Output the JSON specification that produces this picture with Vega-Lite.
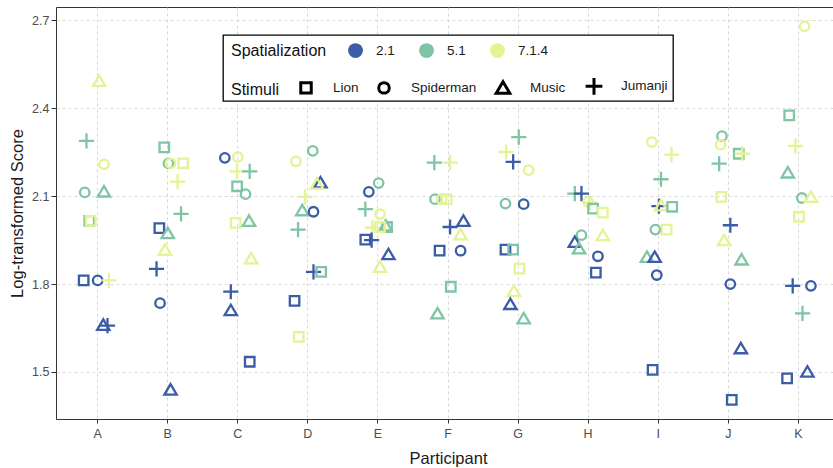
{
  "$schema": "https://vega.github.io/schema/vega-lite/v6.json",
  "width": 784,
  "height": 412,
  "autosize": {"type": "none"},
  "padding": {"left": 56, "top": 7, "right": 0, "bottom": 49},
  "background": "white",
  "config": {
    "view": {"stroke": "#333333", "strokeWidth": 1},
    "font": "Liberation Sans",
    "axis": {
      "domain": false,
      "grid": true,
      "gridDash": [3, 3],
      "gridColor": "#cfcfcf",
      "gridWidth": 0.8,
      "tickColor": "#333333",
      "tickWidth": 1,
      "labelColor": "#4d4d4d",
      "labelFont": "Liberation Sans",
      "labelFontSize": 12.5,
      "titleFont": "Liberation Sans",
      "titleFontSize": 16.5,
      "titleFontWeight": "normal",
      "titleColor": "#1a1a1a"
    },
    "legend": {"strokeWidth": 1.3}
  },
  "data": {
    "values": [
      {"P": "A", "S": "7.1.4", "St": "Music", "y": 2.494, "j": 0.02},
      {"P": "A", "S": "5.1", "St": "Jumanji", "y": 2.289, "j": -0.16},
      {"P": "A", "S": "7.1.4", "St": "Spiderman", "y": 2.209, "j": 0.09},
      {"P": "A", "S": "5.1", "St": "Spiderman", "y": 2.113, "j": -0.185},
      {"P": "A", "S": "5.1", "St": "Music", "y": 2.116, "j": 0.09},
      {"P": "A", "S": "5.1", "St": "Lion", "y": 2.016, "j": -0.12},
      {"P": "A", "S": "7.1.4", "St": "Lion", "y": 2.016, "j": -0.1},
      {"P": "A", "S": "2.1", "St": "Lion", "y": 1.8125, "j": -0.2},
      {"P": "A", "S": "2.1", "St": "Spiderman", "y": 1.8125, "j": 0.0},
      {"P": "A", "S": "7.1.4", "St": "Jumanji", "y": 1.8125, "j": 0.16},
      {"P": "A", "S": "2.1", "St": "Music", "y": 1.661, "j": 0.08},
      {"P": "A", "S": "2.1", "St": "Jumanji", "y": 1.658, "j": 0.14},
      {"P": "B", "S": "5.1", "St": "Lion", "y": 2.267, "j": -0.05},
      {"P": "B", "S": "5.1", "St": "Spiderman", "y": 2.212, "j": 0.01},
      {"P": "B", "S": "7.1.4", "St": "Spiderman", "y": 2.2125, "j": 0.04},
      {"P": "B", "S": "7.1.4", "St": "Lion", "y": 2.2125, "j": 0.22},
      {"P": "B", "S": "7.1.4", "St": "Jumanji", "y": 2.15, "j": 0.14},
      {"P": "B", "S": "5.1", "St": "Jumanji", "y": 2.04, "j": 0.19},
      {"P": "B", "S": "2.1", "St": "Lion", "y": 1.991, "j": -0.12},
      {"P": "B", "S": "5.1", "St": "Music", "y": 1.974, "j": 0.0},
      {"P": "B", "S": "7.1.4", "St": "Music", "y": 1.917, "j": -0.04},
      {"P": "B", "S": "2.1", "St": "Jumanji", "y": 1.852, "j": -0.16},
      {"P": "B", "S": "2.1", "St": "Spiderman", "y": 1.735, "j": -0.11},
      {"P": "B", "S": "2.1", "St": "Music", "y": 1.44, "j": 0.04},
      {"P": "C", "S": "2.1", "St": "Spiderman", "y": 2.231, "j": -0.185},
      {"P": "C", "S": "7.1.4", "St": "Spiderman", "y": 2.234, "j": 0.0},
      {"P": "C", "S": "7.1.4", "St": "Jumanji", "y": 2.185, "j": -0.01},
      {"P": "C", "S": "5.1", "St": "Jumanji", "y": 2.185, "j": 0.17},
      {"P": "C", "S": "5.1", "St": "Lion", "y": 2.134, "j": -0.01},
      {"P": "C", "S": "5.1", "St": "Spiderman", "y": 2.107, "j": 0.11},
      {"P": "C", "S": "7.1.4", "St": "Lion", "y": 2.009, "j": -0.03},
      {"P": "C", "S": "5.1", "St": "Music", "y": 2.016, "j": 0.16},
      {"P": "C", "S": "7.1.4", "St": "Music", "y": 1.888, "j": 0.19},
      {"P": "C", "S": "2.1", "St": "Jumanji", "y": 1.774, "j": -0.1},
      {"P": "C", "S": "2.1", "St": "Music", "y": 1.711, "j": -0.1},
      {"P": "C", "S": "2.1", "St": "Lion", "y": 1.535, "j": 0.17},
      {"P": "D", "S": "5.1", "St": "Spiderman", "y": 2.255, "j": 0.07},
      {"P": "D", "S": "7.1.4", "St": "Spiderman", "y": 2.219, "j": -0.17},
      {"P": "D", "S": "2.1", "St": "Music", "y": 2.147, "j": 0.18},
      {"P": "D", "S": "7.1.4", "St": "Music", "y": 2.143, "j": 0.13},
      {"P": "D", "S": "7.1.4", "St": "Jumanji", "y": 2.098, "j": -0.04},
      {"P": "D", "S": "5.1", "St": "Music", "y": 2.052, "j": -0.08},
      {"P": "D", "S": "2.1", "St": "Spiderman", "y": 2.047, "j": 0.08},
      {"P": "D", "S": "5.1", "St": "Jumanji", "y": 1.986, "j": -0.14},
      {"P": "D", "S": "2.1", "St": "Jumanji", "y": 1.842, "j": 0.08},
      {"P": "D", "S": "5.1", "St": "Lion", "y": 1.842, "j": 0.19},
      {"P": "D", "S": "2.1", "St": "Lion", "y": 1.743, "j": -0.19},
      {"P": "D", "S": "7.1.4", "St": "Lion", "y": 1.62, "j": -0.13},
      {"P": "E", "S": "5.1", "St": "Spiderman", "y": 2.145, "j": 0.01},
      {"P": "E", "S": "2.1", "St": "Spiderman", "y": 2.115, "j": -0.13},
      {"P": "E", "S": "5.1", "St": "Jumanji", "y": 2.056, "j": -0.18},
      {"P": "E", "S": "7.1.4", "St": "Spiderman", "y": 2.039, "j": 0.03},
      {"P": "E", "S": "7.1.4", "St": "Jumanji", "y": 1.993, "j": -0.08},
      {"P": "E", "S": "5.1", "St": "Music", "y": 2.0, "j": 0.11},
      {"P": "E", "S": "5.1", "St": "Lion", "y": 1.995, "j": 0.13},
      {"P": "E", "S": "7.1.4", "St": "Lion", "y": 1.995, "j": 0.03},
      {"P": "E", "S": "2.1", "St": "Lion", "y": 1.952, "j": -0.18},
      {"P": "E", "S": "2.1", "St": "Jumanji", "y": 1.95, "j": -0.09},
      {"P": "E", "S": "2.1", "St": "Music", "y": 1.902, "j": 0.15},
      {"P": "E", "S": "7.1.4", "St": "Music", "y": 1.859, "j": 0.03},
      {"P": "F", "S": "5.1", "St": "Jumanji", "y": 2.215, "j": -0.195},
      {"P": "F", "S": "7.1.4", "St": "Jumanji", "y": 2.215, "j": 0.03},
      {"P": "F", "S": "5.1", "St": "Spiderman", "y": 2.09, "j": -0.185},
      {"P": "F", "S": "7.1.4", "St": "Spiderman", "y": 2.09, "j": -0.09},
      {"P": "F", "S": "7.1.4", "St": "Lion", "y": 2.09, "j": -0.02},
      {"P": "F", "S": "2.1", "St": "Jumanji", "y": 1.995, "j": 0.03},
      {"P": "F", "S": "2.1", "St": "Music", "y": 2.016, "j": 0.22},
      {"P": "F", "S": "7.1.4", "St": "Music", "y": 1.97, "j": 0.18},
      {"P": "F", "S": "2.1", "St": "Lion", "y": 1.914, "j": -0.12},
      {"P": "F", "S": "2.1", "St": "Spiderman", "y": 1.914, "j": 0.18},
      {"P": "F", "S": "5.1", "St": "Lion", "y": 1.791, "j": 0.04},
      {"P": "F", "S": "5.1", "St": "Music", "y": 1.7, "j": -0.15},
      {"P": "G", "S": "5.1", "St": "Jumanji", "y": 2.302, "j": 0.01},
      {"P": "G", "S": "7.1.4", "St": "Jumanji", "y": 2.251, "j": -0.17},
      {"P": "G", "S": "2.1", "St": "Jumanji", "y": 2.217, "j": -0.07},
      {"P": "G", "S": "7.1.4", "St": "Spiderman", "y": 2.189, "j": 0.15},
      {"P": "G", "S": "5.1", "St": "Spiderman", "y": 2.075, "j": -0.18},
      {"P": "G", "S": "2.1", "St": "Spiderman", "y": 2.073, "j": 0.08},
      {"P": "G", "S": "2.1", "St": "Lion", "y": 1.918, "j": -0.18},
      {"P": "G", "S": "5.1", "St": "Lion", "y": 1.918, "j": -0.07},
      {"P": "G", "S": "7.1.4", "St": "Lion", "y": 1.853, "j": 0.02},
      {"P": "G", "S": "7.1.4", "St": "Music", "y": 1.777, "j": -0.06},
      {"P": "G", "S": "2.1", "St": "Music", "y": 1.732, "j": -0.11},
      {"P": "G", "S": "5.1", "St": "Music", "y": 1.683, "j": 0.08},
      {"P": "H", "S": "5.1", "St": "Jumanji", "y": 2.109, "j": -0.19},
      {"P": "H", "S": "2.1", "St": "Jumanji", "y": 2.109, "j": -0.095},
      {"P": "H", "S": "7.1.4", "St": "Spiderman", "y": 2.081, "j": 0.0},
      {"P": "H", "S": "7.1.4", "St": "Jumanji", "y": 2.078, "j": 0.02},
      {"P": "H", "S": "5.1", "St": "Lion", "y": 2.058, "j": 0.07},
      {"P": "H", "S": "7.1.4", "St": "Lion", "y": 2.044, "j": 0.21},
      {"P": "H", "S": "7.1.4", "St": "Music", "y": 1.967, "j": 0.21},
      {"P": "H", "S": "5.1", "St": "Spiderman", "y": 1.967, "j": -0.095},
      {"P": "H", "S": "2.1", "St": "Music", "y": 1.944, "j": -0.19},
      {"P": "H", "S": "5.1", "St": "Music", "y": 1.922, "j": -0.13},
      {"P": "H", "S": "2.1", "St": "Spiderman", "y": 1.895, "j": 0.14},
      {"P": "H", "S": "2.1", "St": "Lion", "y": 1.839, "j": 0.11},
      {"P": "I", "S": "7.1.4", "St": "Spiderman", "y": 2.285, "j": -0.09},
      {"P": "I", "S": "7.1.4", "St": "Jumanji", "y": 2.242, "j": 0.19},
      {"P": "I", "S": "5.1", "St": "Jumanji", "y": 2.158, "j": 0.04},
      {"P": "I", "S": "2.1", "St": "Jumanji", "y": 2.066, "j": 0.01},
      {"P": "I", "S": "7.1.4", "St": "Music", "y": 2.069, "j": 0.04},
      {"P": "I", "S": "5.1", "St": "Lion", "y": 2.064, "j": 0.2},
      {"P": "I", "S": "5.1", "St": "Spiderman", "y": 1.986, "j": -0.04},
      {"P": "I", "S": "7.1.4", "St": "Lion", "y": 1.986, "j": 0.12},
      {"P": "I", "S": "5.1", "St": "Music", "y": 1.893, "j": -0.16},
      {"P": "I", "S": "2.1", "St": "Music", "y": 1.893, "j": -0.05},
      {"P": "I", "S": "2.1", "St": "Spiderman", "y": 1.831, "j": -0.02},
      {"P": "I", "S": "2.1", "St": "Lion", "y": 1.507, "j": -0.08},
      {"P": "J", "S": "5.1", "St": "Spiderman", "y": 2.305, "j": -0.09},
      {"P": "J", "S": "7.1.4", "St": "Spiderman", "y": 2.276, "j": -0.11},
      {"P": "J", "S": "5.1", "St": "Lion", "y": 2.245, "j": 0.15},
      {"P": "J", "S": "7.1.4", "St": "Jumanji", "y": 2.245, "j": 0.2},
      {"P": "J", "S": "5.1", "St": "Jumanji", "y": 2.211, "j": -0.13},
      {"P": "J", "S": "7.1.4", "St": "Lion", "y": 2.098, "j": -0.1},
      {"P": "J", "S": "2.1", "St": "Jumanji", "y": 2.001, "j": 0.03},
      {"P": "J", "S": "7.1.4", "St": "Music", "y": 1.95, "j": -0.06},
      {"P": "J", "S": "5.1", "St": "Music", "y": 1.884, "j": 0.19},
      {"P": "J", "S": "2.1", "St": "Spiderman", "y": 1.8, "j": 0.03},
      {"P": "J", "S": "2.1", "St": "Music", "y": 1.581, "j": 0.18},
      {"P": "J", "S": "2.1", "St": "Lion", "y": 1.405, "j": 0.05},
      {"P": "K", "S": "7.1.4", "St": "Spiderman", "y": 2.68, "j": 0.09},
      {"P": "K", "S": "5.1", "St": "Lion", "y": 2.376, "j": -0.13},
      {"P": "K", "S": "7.1.4", "St": "Jumanji", "y": 2.272, "j": -0.04},
      {"P": "K", "S": "5.1", "St": "Music", "y": 2.181, "j": -0.15},
      {"P": "K", "S": "5.1", "St": "Spiderman", "y": 2.094, "j": 0.05},
      {"P": "K", "S": "7.1.4", "St": "Music", "y": 2.098, "j": 0.18},
      {"P": "K", "S": "7.1.4", "St": "Lion", "y": 2.03, "j": 0.01},
      {"P": "K", "S": "2.1", "St": "Jumanji", "y": 1.794, "j": -0.08},
      {"P": "K", "S": "2.1", "St": "Spiderman", "y": 1.794, "j": 0.18},
      {"P": "K", "S": "5.1", "St": "Jumanji", "y": 1.7, "j": 0.06},
      {"P": "K", "S": "2.1", "St": "Lion", "y": 1.478, "j": -0.16},
      {"P": "K", "S": "2.1", "St": "Music", "y": 1.501, "j": 0.13}
    ]
  },
  "layer": [
    {
      "mark": {"type": "point", "filled": true, "size": 0, "opacity": 1},
      "encoding": {
        "color": {
          "field": "S",
          "type": "nominal",
          "scale": {"domain": ["2.1", "5.1", "7.1.4"], "range": ["#3b5ca6", "#7fc5a5", "#e4f393"]},
          "legend": {
            "title": ["Spatialization", "\u00a0"],
            "orient": "none",
            "legendX": 167,
            "legendY": 28,
            "direction": "horizontal",
            "titleOrient": "left",
            "titleAnchor": "start",
            "titleBaseline": "top",
            "titleFontSize": 16,
            "titleFontWeight": "normal",
            "titleColor": "#111111",
            "titleLineHeight": 34,
            "titlePadding": 21,
            "labelFontSize": 13.5,
            "labelColor": "#1a1a1a",
            "labelOffset": 13,
            "labelLimit": 400,
            "labelExpr": "datum.label === '7.1.4' ? '7.1.4\u00a0\u00a0\u00a0\u00a0\u00a0\u00a0\u00a0\u00a0\u00a0\u00a0\u00a0\u00a0\u00a0\u00a0\u00a0\u00a0\u00a0\u00a0\u00a0\u00a0\u00a0\u00a0\u00a0\u00a0\u00a0\u00a0\u00a0\u00a0\u00a0\u00a0\u00a0\u200b' : datum.label",
            "columnPadding": 24,
            "symbolType": "circle",
            "symbolSize": 220,
            "symbolStrokeWidth": 0,
            "padding": 8,
            "strokeColor": "black",
            "fillColor": "white",
            "zindex": 1
          }
        }
      }
    },
    {
      "mark": {"type": "point", "filled": false, "strokeWidth": 2.3, "size": 90, "opacity": 1},
      "encoding": {
        "x": {
          "field": "P",
          "type": "nominal",
          "scale": {"type": "band", "paddingInner": 0, "paddingOuter": 0.095},
          "axis": {
            "title": "Participant",
            "labelAngle": 0,
            "tickSize": 4,
            "labelPadding": 4,
            "titlePadding": 11,
            "bandPosition": 0.5,
            "grid": true
          }
        },
        "xOffset": {
          "field": "j",
          "type": "quantitative",
          "scale": {"domain": [-0.5, 0.5]}
        },
        "y": {
          "field": "y",
          "type": "quantitative",
          "scale": {"domain": [1.3395, 2.746], "nice": false, "zero": false},
          "axis": {
            "title": "Log-transformed Score",
            "values": [1.5, 1.8, 2.1, 2.4, 2.7],
            "format": ".1f",
            "tickSize": 5,
            "labelPadding": 2,
            "titlePadding": 6
          }
        },
        "color": {
          "field": "S",
          "type": "nominal",
          "scale": {"domain": ["2.1", "5.1", "7.1.4"], "range": ["#3b5ca6", "#7fc5a5", "#e4f393"]},
          "legend": null
        },
        "shape": {
          "field": "St",
          "type": "nominal",
          "scale": {
            "domain": ["Lion", "Spiderman", "Music", "Jumanji"],
            "range": ["square", "circle", "M0,-1.15L1.3,1.05L-1.3,1.05Z", "M-1.6,0H1.6M0,-1.6V1.6"]
          },
          "legend": {
            "title": "Stimuli",
            "orient": "none",
            "legendX": 175,
            "legendY": 72,
            "direction": "horizontal",
            "titleOrient": "left",
            "titleFontSize": 16,
            "titleFontWeight": "normal",
            "titleColor": "#111111",
            "titlePadding": 19,
            "labelFontSize": 13.5,
            "labelColor": "#1a1a1a",
            "labelOffset": 20,
            "columnPadding": 13,
            "symbolSize": 110,
            "symbolStrokeColor": "black",
            "symbolStrokeWidth": 3,
            "symbolFillColor": "transparent",
            "padding": 0,
            "zindex": 2
          }
        }
      }
    }
  ]
}
